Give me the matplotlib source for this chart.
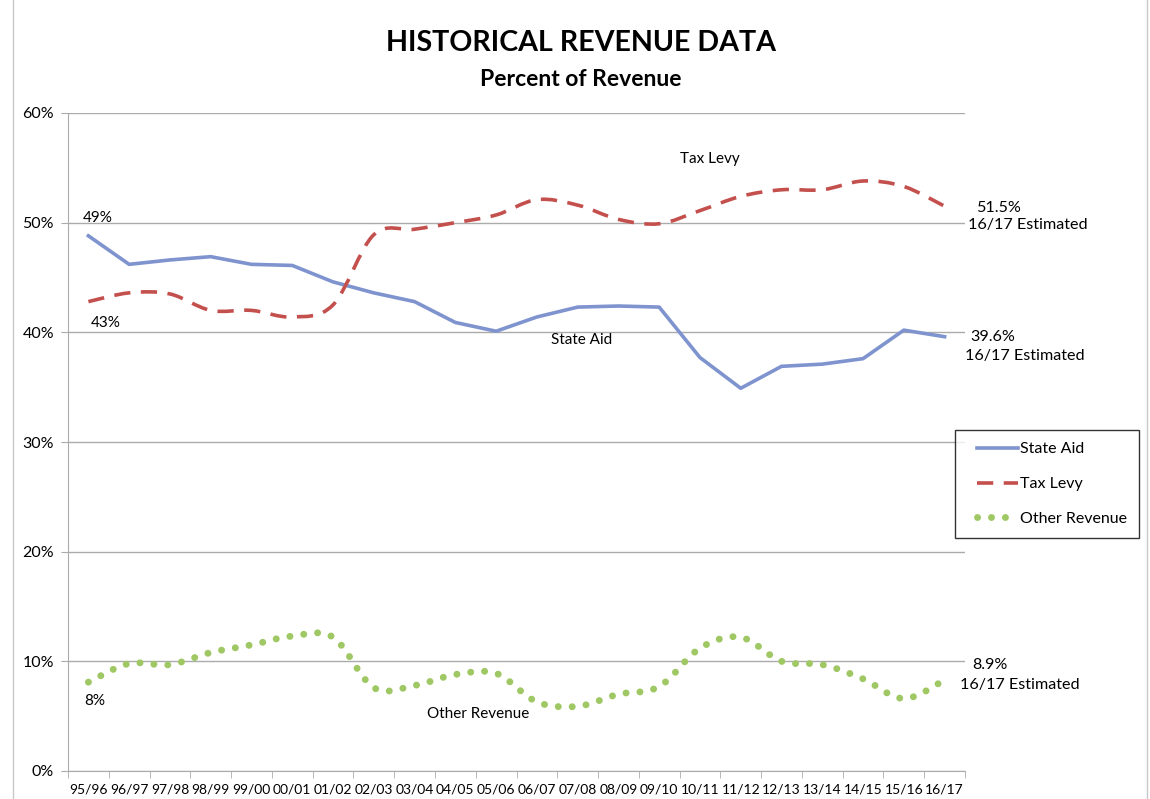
import numpy as np
import matplotlib.pyplot as plt
from matplotlib.path import Path
from matplotlib.patches import PathPatch
from matplotlib.lines import Line2D
from matplotlib.legend_handler import HandlerLine2D

plt.rcParams['font.family'] = ['Lato', 'DejaVu Sans']

years = ['95/96', '96/97', '97/98', '98/99', '99/00', '00/01', '01/02', '02/03',
         '03/04', '04/05', '05/06', '06/07', '07/08', '08/09', '09/10', '10/11',
         '11/12', '12/13', '13/14', '14/15', '15/16', '16/17']

state_aid = [48.8, 46.2, 46.6, 46.9, 46.2, 46.1, 44.6, 43.6, 42.8, 40.9, 40.1,
             41.4, 42.3, 42.4, 42.3, 37.7, 34.9, 36.9, 37.1, 37.6, 40.2, 39.6]
tax_levy = [42.8, 43.6, 43.5, 42.0, 42.0, 41.4, 42.5, 48.9, 49.4, 50.0, 50.7,
            52.1, 51.6, 50.3, 49.9, 51.1, 52.4, 53.0, 53.0, 53.8, 53.3, 51.5]
other_rev = [8.1, 9.8, 9.7, 10.8, 11.5, 12.3, 12.2, 7.6, 7.8, 8.8, 8.9,
             6.3, 5.9, 7.0, 7.7, 11.2, 12.2, 10.0, 9.7, 8.4, 6.6, 8.3]

blue = '#7F94CF'
red = '#C4504D'
green = '#9FC865'
grid_c = '#ABABAB'

W, H = 1150, 799


def smooth_path(xs, ys):
    # Excel-style smoothed line as cubic Bezier segments
    pts = np.column_stack([xs, ys])
    n = len(pts)
    verts = [pts[0]]
    codes = [Path.MOVETO]
    for i in range(n - 1):
        p0 = pts[i - 1] if i > 0 else pts[i]
        p1 = pts[i]
        p2 = pts[i + 1]
        p3 = pts[i + 2] if i + 2 < n else pts[i + 1]
        c1 = p1 + (p2 - p0) / 6.0
        c2 = p2 - (p3 - p1) / 6.0
        verts += [c1, c2, p2]
        codes += [Path.CURVE4] * 3
    return Path(verts, codes)


def ftext(px, py, s, **kw):
    fig.text(px / W, 1 - py / H, s, **kw)


fig = plt.figure(figsize=(11.5, 7.99), dpi=100)
ax = fig.add_axes([68 / W, 28 / H, (965 - 68) / W, (771 - 113) / H])

x = np.arange(len(years))

ax.plot(x, state_aid, color=blue, lw=2.6, solid_joinstyle='round', zorder=3)
ax.add_patch(PathPatch(smooth_path(x, tax_levy), fill=False, edgecolor=red,
                       lw=2.6, linestyle=(0, (4.5, 2.9)), capstyle='butt', zorder=3))
ax.add_patch(PathPatch(smooth_path(x, other_rev), fill=False, edgecolor=green,
                       lw=5, linestyle=(0, (0.01, 2.0)), capstyle='round', zorder=3))

ax.set_xlim(-0.5, len(years) - 0.5)
ax.set_ylim(0, 60)
ax.set_yticks(range(0, 61, 10))
ax.set_yticklabels([f'{v}%' for v in range(0, 61, 10)], fontsize=11.5)
ax.set_xticks(x)
ax.set_xticklabels(years, fontsize=10)
ax.set_xticks(np.arange(-0.5, len(years), 1), minor=True)
ax.tick_params(axis='x', which='major', length=0, pad=9)
ax.tick_params(axis='x', which='minor', length=5, color=grid_c)
ax.tick_params(axis='y', length=5, color=grid_c, pad=5)
ax.grid(axis='y', color=grid_c, lw=1)
ax.set_axisbelow(True)
for s in ['top', 'right']:
    ax.spines[s].set_visible(False)
for s in ['left', 'bottom']:
    ax.spines[s].set_color(grid_c)

# labels on the series
ax.text(0.22, state_aid[0] + 1.0, '49%', fontsize=11, ha='center', va='bottom')
ax.text(0.43, tax_levy[0] - 1.3, '43%', fontsize=11, ha='center', va='top')
ax.text(0.15, other_rev[0] - 1.1, '8%', fontsize=11, ha='center', va='top')
ax.text(15.25, 55.8, 'Tax Levy', fontsize=11, ha='center', va='center')
ax.text(12.1, 39.3, 'State Aid', fontsize=11, ha='center', va='center')
ax.text(9.55, 5.2, 'Other Revenue', fontsize=11, ha='center', va='center')

# end-of-series notes
note = dict(fontsize=11.6, ha='left', va='center')
ftext(976, 208, f'{tax_levy[-1]}%', **note)
ftext(968, 225, '16/17 Estimated', **note)
ftext(970, 337, f'{state_aid[-1]}%', **note)
ftext(965, 356, '16/17 Estimated', **note)
ftext(972, 665, '8.9%', **note)
ftext(960, 685, '16/17 Estimated', **note)

handles = [
    Line2D([], [], color=blue, lw=2.6),
    Line2D([], [], color=red, lw=2.6, linestyle=(0, (4.5, 2.9))),
    Line2D([], [], color=green, lw=5, linestyle=(0, (0.01, 2.0)), dash_capstyle='round'),
]
leg = fig.legend(handles, ['State Aid', 'Tax Levy', 'Other Revenue'],
                 loc='upper left', bbox_to_anchor=(955 / W, 1 - 430 / H),
                 fontsize=11.5, frameon=True, fancybox=False, handlelength=3.2,
                 handletextpad=0.15, labelspacing=1.3, borderpad=0.75, borderaxespad=0,
                 handler_map={Line2D: HandlerLine2D(xpad=0.6)})
leg.get_frame().set_edgecolor('black')
leg.get_frame().set_linewidth(1)

ftext(581, 43, 'HISTORICAL REVENUE DATA', fontsize=20.6,
      fontweight='bold', ha='center', va='center')
ftext(581, 80, 'Percent of Revenue', fontsize=16.5,
      fontweight='bold', ha='center', va='center')

# chart area border
fig.add_artist(Line2D([13 / W, 13 / W], [0, 1], color='#C8C8C8', lw=1))
fig.add_artist(Line2D([1147 / W, 1147 / W], [0, 1], color='#C8C8C8', lw=1))

fig.savefig('out.png', dpi=100)
